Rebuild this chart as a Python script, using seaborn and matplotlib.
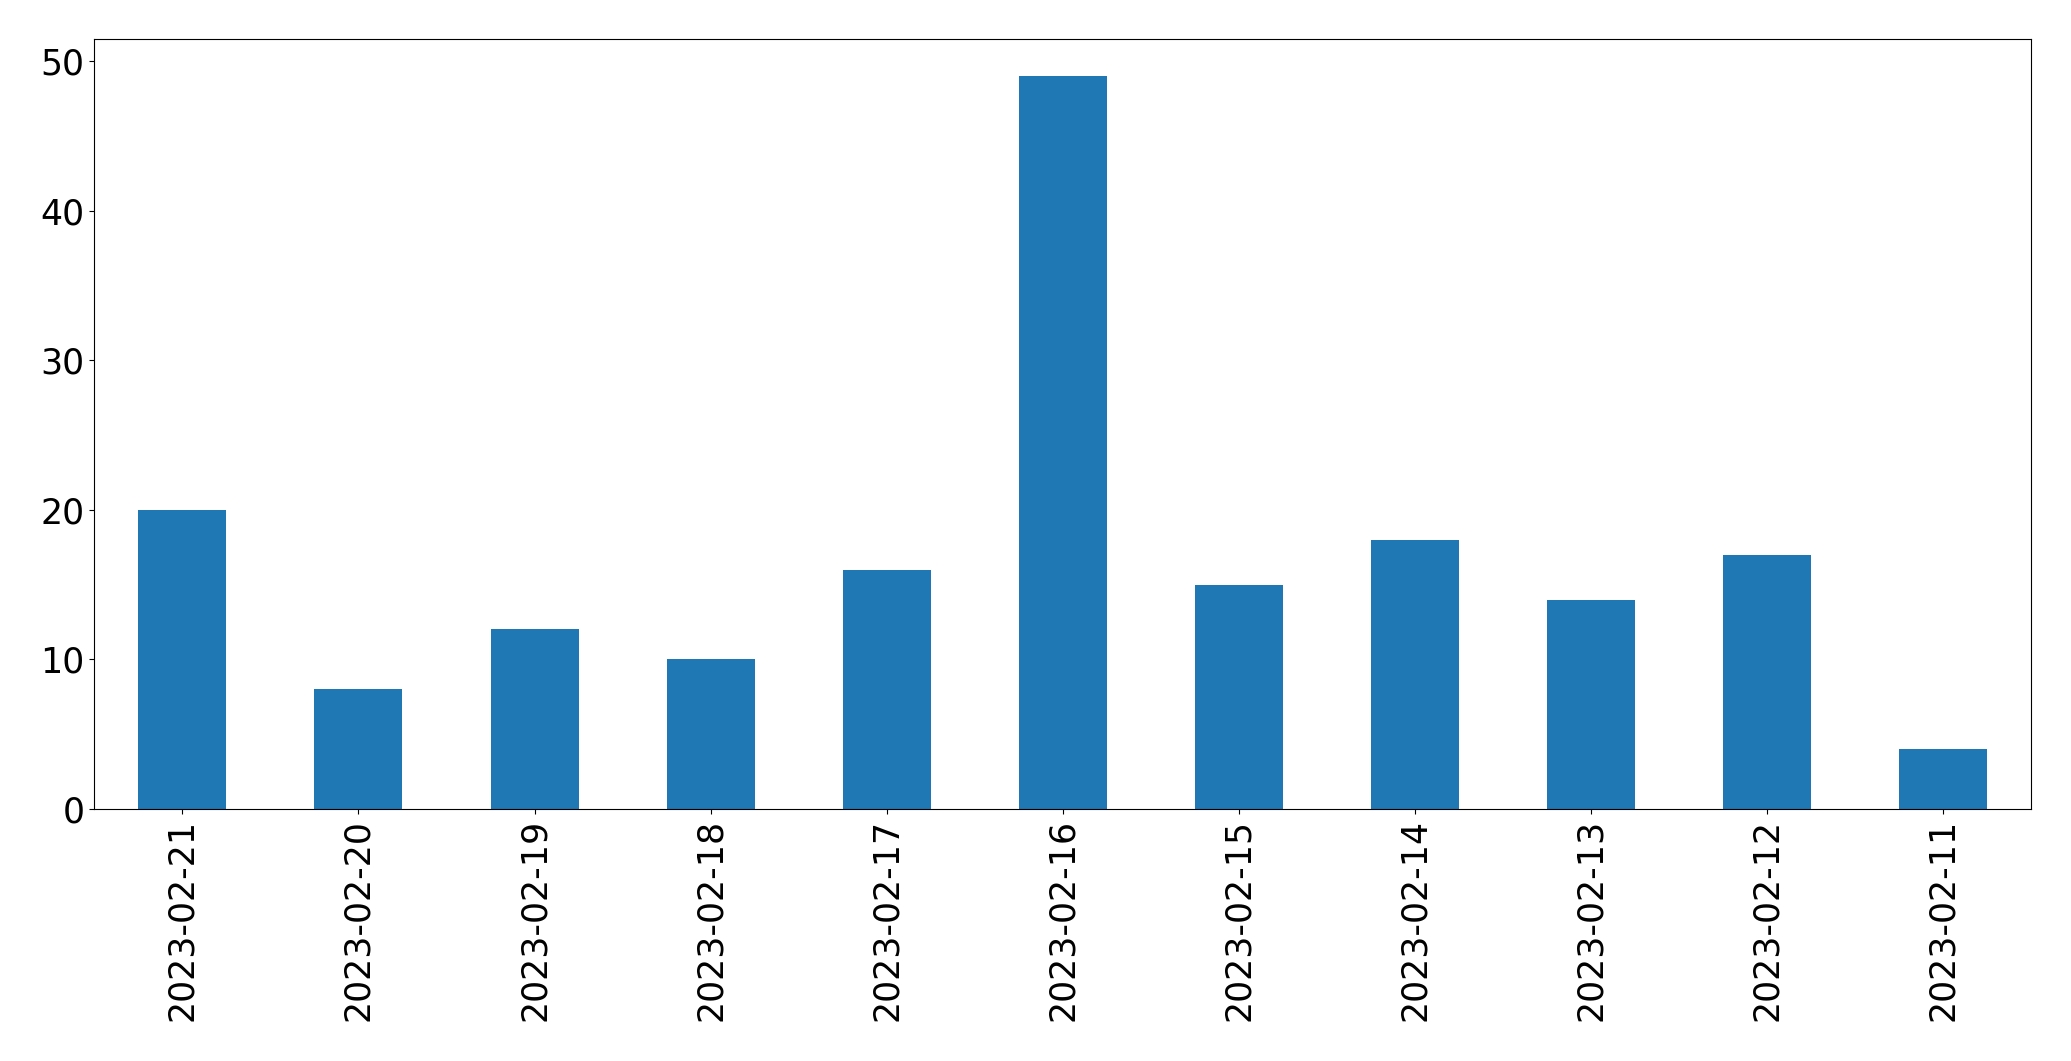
import matplotlib
matplotlib.use("Agg")
import matplotlib.pyplot as plt
import seaborn as sns
import pandas as pd

dates = ["2023-02-21", "2023-02-20", "2023-02-19", "2023-02-18", "2023-02-17",
         "2023-02-16", "2023-02-15", "2023-02-14", "2023-02-13", "2023-02-12",
         "2023-02-11"]
counts = [20, 8, 12, 10, 16, 49, 15, 18, 14, 17, 4]

df = pd.DataFrame({"date": dates, "count": counts})

W, H = 2071, 1061
fig = plt.figure(figsize=(W / 100, H / 100), dpi=100)
ax = fig.add_axes([94.3 / W, 1 - 809 / H, (2031.3 - 94.3) / W, (809 - 39.3) / H])

sns.barplot(data=df, x="date", y="count", order=dates, color="#1f77b4",
            saturation=1, width=0.5, linewidth=0, ax=ax)

ax.set_xlim(-0.5, len(dates) - 0.5)
ax.set_ylim(0, max(counts) * 1.05)
ax.set_xlabel("")
ax.set_ylabel("")
ax.tick_params(axis="both", labelsize=25)
plt.setp(ax.get_xticklabels(), rotation=90)

fig.savefig("out.png", dpi=100)
